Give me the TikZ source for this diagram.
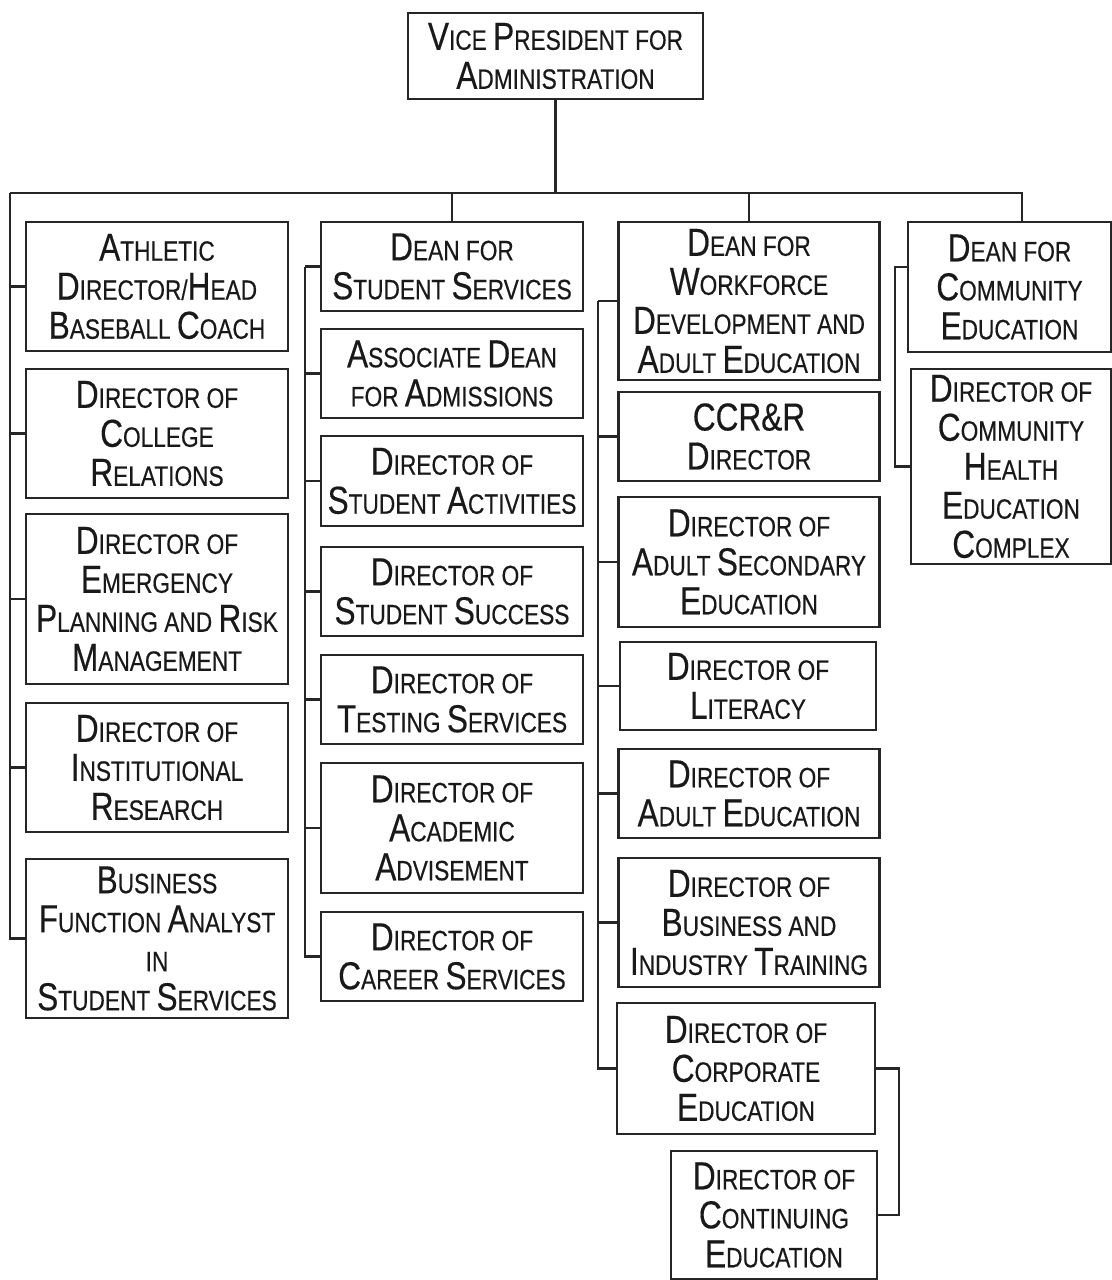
\documentclass[tikz,border=0pt]{standalone}
\usepackage{fontspec}
\setmainfont[FakeStretch=0.81, FakeBold=0.4]{Liberation Sans}
\newcommand{\capl}[1]{{\fontsize{19.5pt}{19.5pt}\selectfont #1}}
\tikzset{
  post/.style={draw, line width=1.2pt, align=center, inner sep=0pt,
    font=\fontsize{14pt}{19.5pt}\selectfont},
  dims/.style 2 args={minimum width=#1*0.5pt, minimum height=#2*0.5pt},
  link/.style={line width=1.2pt}
}
\begin{document}
\begin{tikzpicture}[x=0.5pt, y=-0.5pt, draw=black!85, text=black!90]
  \useasboundingbox (0,0) rectangle (1112,1280);
  % top
  \node[post, dims={295}{86}] (vp) at (555.5,56) {\capl{V}ICE \capl{P}RESIDENT FOR\\\capl{A}DMINISTRATION};
  % first column
  \node[post, dims={262}{129}] (ath) at (157,286.5) {\capl{A}THLETIC\\\capl{D}IRECTOR/\capl{H}EAD\\\capl{B}ASEBALL \capl{C}OACH};
  \node[post, dims={262}{129}] (rel) at (157,433.5) {\capl{D}IRECTOR OF\\\capl{C}OLLEGE\\\capl{R}ELATIONS};
  \node[post, dims={262}{170}] (emg) at (157,599) {\capl{D}IRECTOR OF\\\capl{E}MERGENCY\\\capl{P}LANNING AND \capl{R}ISK\\\capl{M}ANAGEMENT};
  \node[post, dims={262}{129}] (ins) at (157,767.5) {\capl{D}IRECTOR OF\\\capl{I}NSTITUTIONAL\\\capl{R}ESEARCH};
  \node[post, dims={262}{159}] (bfa) at (157,938.5) {\capl{B}USINESS\\\capl{F}UNCTION \capl{A}NALYST\\IN\\\capl{S}TUDENT \capl{S}ERVICES};
  % second column
  \node[post, dims={262}{89}] (dss) at (452,266.5) {\capl{D}EAN FOR\\\capl{S}TUDENT \capl{S}ERVICES};
  \node[post, dims={262}{89}] (adm) at (452,373.5) {\capl{A}SSOCIATE \capl{D}EAN\\FOR \capl{A}DMISSIONS};
  \node[post, dims={262}{90}] (act) at (452,481) {\capl{D}IRECTOR OF\\\capl{S}TUDENT \capl{A}CTIVITIES};
  \node[post, dims={262}{89}] (suc) at (452,591.5) {\capl{D}IRECTOR OF\\\capl{S}TUDENT \capl{S}UCCESS};
  \node[post, dims={262}{89}] (tst) at (452,699.5) {\capl{D}IRECTOR OF\\\capl{T}ESTING \capl{S}ERVICES};
  \node[post, dims={262}{130}] (adv) at (452,828) {\capl{D}IRECTOR OF\\\capl{A}CADEMIC\\\capl{A}DVISEMENT};
  \node[post, dims={262}{89}] (car) at (452,956.5) {\capl{D}IRECTOR OF\\\capl{C}AREER \capl{S}ERVICES};
  % third column
  \node[post, dims={261}{158}] (dwf) at (749,301) {\capl{D}EAN FOR\\\capl{W}ORKFORCE\\\capl{D}EVELOPMENT AND\\\capl{A}DULT \capl{E}DUCATION};
  \node[post, dims={261}{89}] (ccr) at (749,436.5) {\capl{CCR\&R}\\\capl{D}IRECTOR};
  \node[post, dims={261}{130}] (ase) at (749,562) {\capl{D}IRECTOR OF\\\capl{A}DULT \capl{S}ECONDARY\\\capl{E}DUCATION};
  \node[post, dims={256}{88}] (lit) at (748,686) {\capl{D}IRECTOR OF\\\capl{L}ITERACY};
  \node[post, dims={261}{89}] (aed) at (749,793.5) {\capl{D}IRECTOR OF\\\capl{A}DULT \capl{E}DUCATION};
  \node[post, dims={261}{129}] (bit) at (749,922.5) {\capl{D}IRECTOR OF\\\capl{B}USINESS AND\\\capl{I}NDUSTRY \capl{T}RAINING};
  \node[post, dims={258}{131}] (cor) at (746,1068.5) {\capl{D}IRECTOR OF\\\capl{C}ORPORATE\\\capl{E}DUCATION};
  \node[post, dims={206}{128}] (con) at (774,1215) {\capl{D}IRECTOR OF\\\capl{C}ONTINUING\\\capl{E}DUCATION};
  % fourth column
  \node[post, dims={203}{130}] (dcom) at (1009.5,287) {\capl{D}EAN FOR\\\capl{C}OMMUNITY\\\capl{E}DUCATION};
  \node[post, dims={200}{195}] (hlth) at (1011,466.5) {\capl{D}IRECTOR OF\\\capl{C}OMMUNITY\\\capl{H}EALTH\\\capl{E}DUCATION\\\capl{C}OMPLEX};
  % lines
  \coordinate (busL) at (10,193);
  \coordinate (busR) at (1022,193);
  \coordinate (c2) at (305,0);
  \coordinate (c3) at (598,0);
  \coordinate (c4) at (895,0);
  \coordinate (c5) at (899,0);
  \draw[link] (vp.south) -- (vp.south |- busL);
  \draw[link] (busL) -- (busR) -- (busR |- dcom.north);
  \draw[link] (dss.north |- busL) -- (dss.north);
  \draw[link] (dwf.north |- busL) -- (dwf.north);
  \draw[link] (busL) -- (busL |- bfa.west) -- (bfa.west);
  \foreach \n in {ath,rel,emg,ins}
    \draw[link] (busL |- \n.west) -- (\n.west);
  \draw[link] (dss.west -| c2) -- (car.west -| c2) -- (car.west);
  \foreach \n in {dss,adm,act,suc,tst,adv}
    \draw[link] (\n.west -| c2) -- (\n.west);
  \draw[link] (dwf.west -| c3) -- (cor.west -| c3) -- (cor.west);
  \foreach \n in {dwf,ccr,ase,lit,aed,bit}
    \draw[link] (\n.west -| c3) -- (\n.west);
  \draw[link] ([yshift=10pt]dcom.west) -| (c4 |- hlth.west) -- (hlth.west);
  \draw[link] (cor.east) -- (cor.east -| c5) |- (con.east);
\end{tikzpicture}
\end{document}
